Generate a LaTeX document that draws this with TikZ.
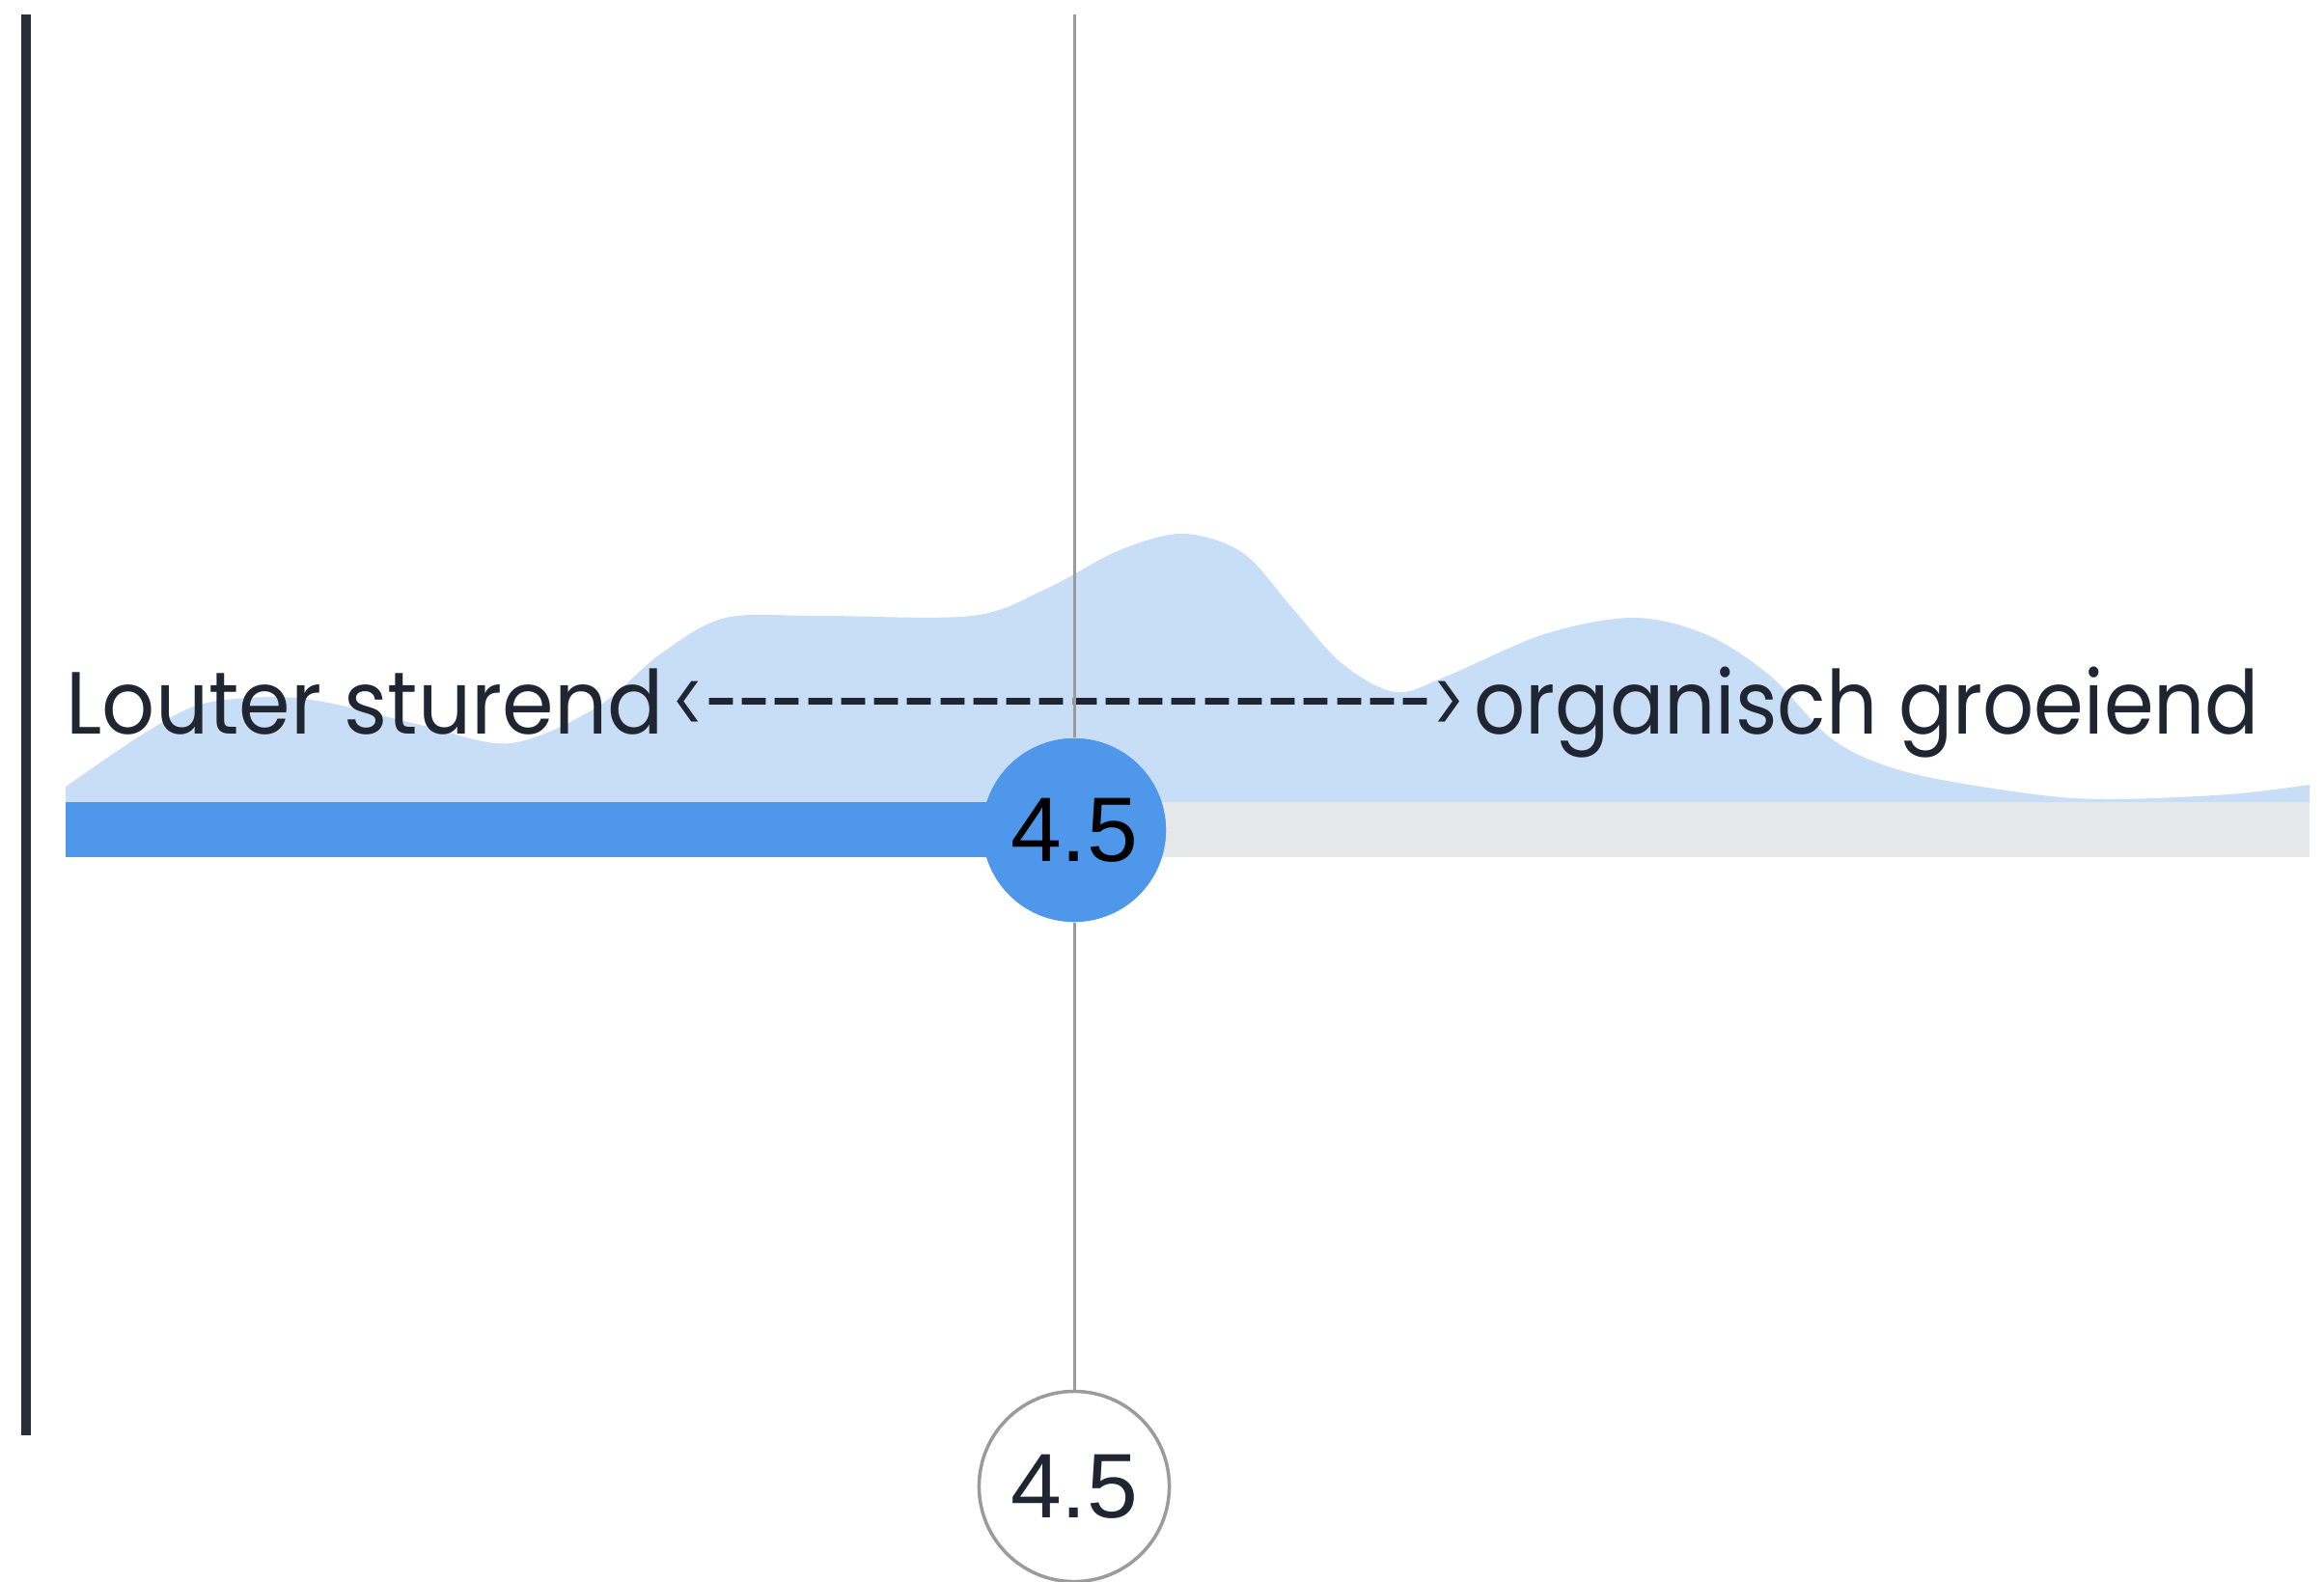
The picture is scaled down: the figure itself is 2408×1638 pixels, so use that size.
\documentclass[tikz,border=0pt]{standalone}
\usepackage{fontspec}
\usepackage{tikz}
\usetikzlibrary{positioning}
\newfontfamily\labelfont{Poppins}[Ligatures=TeXOff]
\newfontfamily\valuefont{Liberation Sans}
\definecolor{barblue}{RGB}{78,151,234}
\definecolor{densblue}{RGB}{200,222,247}
\definecolor{bargrey}{RGB}{230,231,232}
\definecolor{rulegrey}{RGB}{155,155,155}
\definecolor{axisdark}{RGB}{42,46,54}
\definecolor{textdark}{RGB}{31,37,49}
\newcommand{\narrow}[2]{\scalebox{#1}[1]{#2}}
\tikzset{
  valuedot/.style={circle, inner sep=0pt, minimum size=1.9cm, fill=barblue,
    font=\valuefont\fontsize{27}{27}\selectfont, text=black},
  scoredot/.style={circle, inner sep=0pt, minimum size=1.97cm, draw=rulegrey,
    line width=1pt, fill=white, font=\valuefont\fontsize{27}{27}\selectfont, text=textdark},
  rangelabel/.style={anchor=base west, inner sep=0pt, text=textdark,
    font=\labelfont\fontsize{26}{26}\selectfont}
}

\begin{document}
\begin{tikzpicture}[x=0.01cm, y=-0.01cm]
            \useasboundingbox (0, 0) rectangle (2408, 1638);

            % density behind the bar
            \fill[densblue] plot[smooth, tension=0.55] coordinates {(68, 815) (149, 760) (207, 730) (280, 722) (340, 728)
                    (440, 752) (529, 770) (618, 733) (685, 677) (752, 640) (850, 638) (1007, 638)
                    (1084, 610) (1160, 570) (1226, 553) (1288, 573) (1339, 630) (1390, 687) (1446, 717)
                    (1500, 700) (1600, 657) (1692, 640) (1767, 657) (1834, 700) (1900, 767) (1976, 800)
                    (2101, 822) (2184, 828) (2309, 823) (2393, 813)}
                -- (2393, 831) -- (68, 831) -- cycle;

            % bar
            \fill[bargrey] (1113, 831) rectangle (2393, 888);
            \fill[barblue] (68, 831) rectangle (1113, 888);

            % axis
            \coordinate (axis_top) at (27, 15);
            \coordinate (axis_bottom) at (27, 1487);
            \draw[axisdark, line width=0.1cm] (axis_top) -- (axis_bottom);

            \node[rangelabel] (range) at (68, 760) {\narrow{0.944}{Louter sturend}\hspace{0.1em}\narrow{0.68}{<---------------------->}\hspace{0.1em}\narrow{0.91}{organisch groeiend}};

            \coordinate (marker_top) at (1113, 15);
            \node[valuedot] (mean) at (1113, 860) {4.5};
            \node[scoredot] (score) at (1113, 1540) {4.5};

            \draw[rulegrey, line width=0.03cm] (marker_top) -- (mean);
            \draw[rulegrey, line width=0.03cm] (mean) -- (score);
            \node[valuedot] at (mean) {4.5};
        \end{tikzpicture}
\end{document}
